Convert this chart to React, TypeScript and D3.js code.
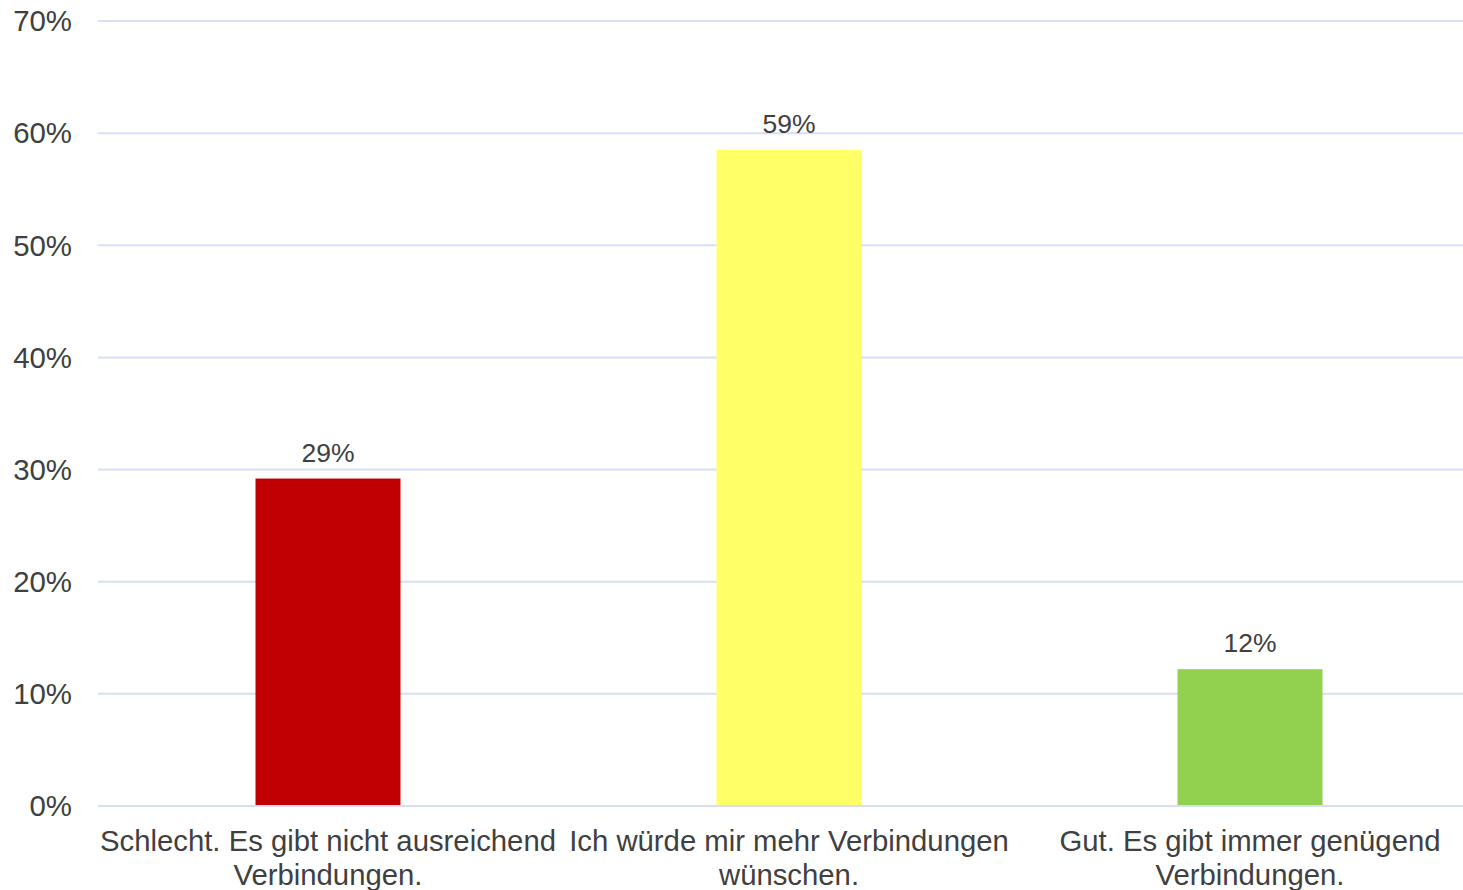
import React from "react";
import * as d3 from "d3";

const categories: string[][] = [
  ["Schlecht. Es gibt nicht ausreichend", "Verbindungen."],
  ["Ich würde mir mehr Verbindungen", "wünschen."],
  ["Gut. Es gibt immer genügend", "Verbindungen."],
];
const values: number[] = [0.292, 0.585, 0.122];
const colors: string[] = ["#C00000", "#FFFF66", "#92D050"];
const yTicks: number[] = [0, 0.1, 0.2, 0.3, 0.4, 0.5, 0.6, 0.7];

const W = 1463;
const H = 890;
const FONT = "'Liberation Sans', Arial, sans-serif";
const TEXT = "#404040";

export default function App() {
  const x = d3
    .scaleBand<number>()
    .domain(d3.range(categories.length))
    .range([97.5, 1480.5])
    .paddingInner(0.6855)
    .paddingOuter(0.34275);
  const y = d3.scaleLinear().domain([0, 0.7]).range([806, 21]);
  const fmt = d3.format(".0%");

  return (
    <svg
      width={W}
      height={H}
      style={{ position: "absolute", left: 0, top: 0 }}
      fontFamily={FONT}
    >
      <rect width={W} height={H} fill="#fff" />
      {yTicks.map((t) => (
        <g key={t}>
          <line x1={98} x2={W} y1={y(t)} y2={y(t)} stroke="#D6DFF5" strokeWidth={2} />
          <text x={72} y={y(t)} dy="0.35em" textAnchor="end" fontSize={29.4} fill={TEXT}>
            {fmt(t)}
          </text>
        </g>
      ))}
      {values.map((v, i) => (
        <g key={i}>
          <rect
            x={x(i)}
            y={y(v)}
            width={x.bandwidth()}
            height={y(0) - y(v) - 1}
            fill={colors[i]}
          />
          <text
            x={(x(i) as number) + x.bandwidth() / 2}
            y={y(v) - 17}
            textAnchor="middle"
            fontSize={26.5}
            fill={TEXT}
          >
            {fmt(v)}
          </text>
          {categories[i].map((line, j) => (
            <text
              key={j}
              x={(x(i) as number) + x.bandwidth() / 2}
              y={851 + j * 34}
              textAnchor="middle"
              fontSize={29.3}
              fill={TEXT}
            >
              {line}
            </text>
          ))}
        </g>
      ))}
    </svg>
  );
}
